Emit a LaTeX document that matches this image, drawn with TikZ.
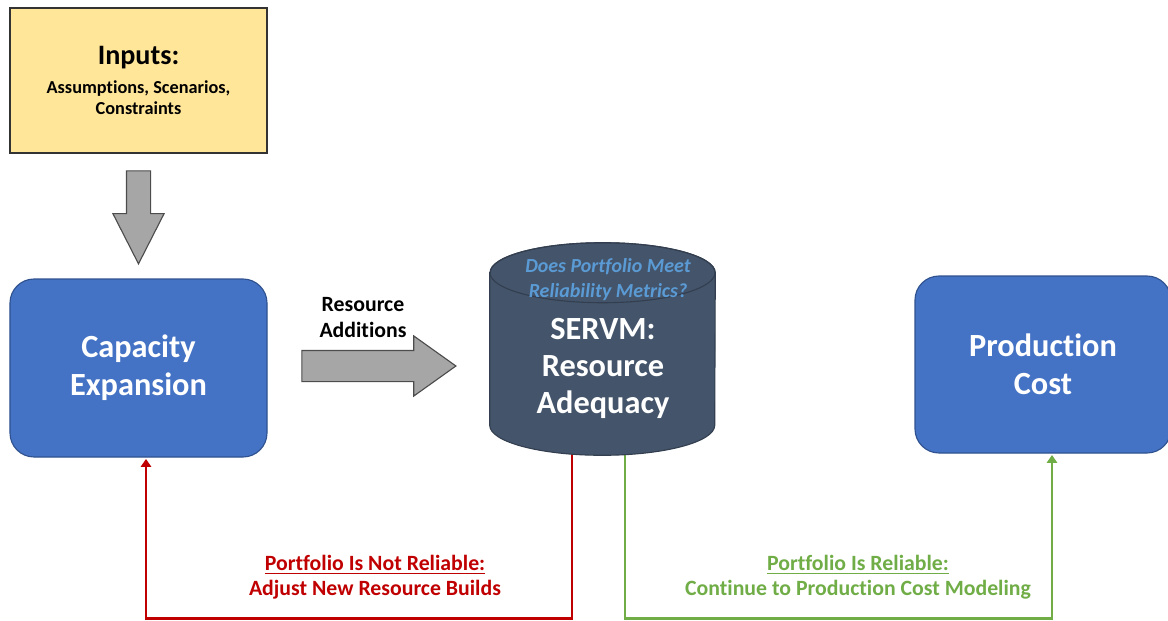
\documentclass[tikz,border=0pt]{standalone}
\usepackage{fontspec}
\setmainfont{Carlito}[Ligatures=NoCommon]
\usetikzlibrary{positioning,shapes.arrows,arrows.meta}

\definecolor{azul}{RGB}{68,114,196}
\definecolor{azulborde}{RGB}{47,82,143}
\definecolor{pizarra}{RGB}{68,84,106}
\definecolor{pizarraborde}{RGB}{51,63,80}
\definecolor{celeste}{RGB}{91,155,213}
\definecolor{amarillo}{RGB}{255,230,153}
\definecolor{gris}{RGB}{166,166,166}
\definecolor{rojo}{RGB}{192,0,0}
\definecolor{verde}{RGB}{112,173,71}

\begin{document}
\begin{tikzpicture}[>={Triangle[width=0.26cm,length=0.2cm]},
  every node/.style={font=\bfseries,align=center},
  bloque/.style={draw=azulborde, line width=0.8pt, fill=azul, rounded corners=0.6cm, text=white,
    minimum width=6.425cm, minimum height=4.45cm, font=\bfseries\fontsize{23}{27}\selectfont},
  flecha/.style={single arrow, draw=black!70, line width=0.8pt, fill=gris, inner xsep=0pt,
    single arrow head indent=0pt},
  ruta/.style={line width=2.1pt, ->, shorten >=1pt},
  etiqueta/.style={font=\bfseries\fontsize{15.5}{17.8}\selectfont}]

\useasboundingbox (0,0) rectangle (29.2,-15.525);

% Entradas y modelos
\node[draw=black!80, line width=0.8pt, fill=amarillo, minimum width=6.425cm, minimum height=3.625cm,
  font=\bfseries\fontsize{13}{15.5}\selectfont] (inputs) at (3.4625,-2.0125)
  {{\fontsize{20}{22}\selectfont Inputs:}\\[5pt]Assumptions, Scenarios,\\Constraints};
\node[bloque] (cap) at (3.4625,-9.2) {Capacity\\Expansion};
\node[bloque, minimum width=6.4cm, minimum height=4.425cm] (prod) at (26.075,-9.1125) {Production\\Cost};
\node[minimum width=5.625cm, minimum height=5.3cm, inner sep=0pt] (servm) at (15.0625,-8.725) {};

% Flechas grises
\node[flecha, inner ysep=0.2875cm, minimum height=2.325cm, single arrow head extend=0.3375cm,
  single arrow tip angle=54, rotate=-90] (baja) at (3.4625,-5.1375) {};
\node[flecha, inner ysep=0.375cm, minimum height=3.85cm, single arrow head extend=0.3625cm,
  single arrow tip angle=71] (derecha) at (9.2,-9.15) {};
\node[etiqueta] (recursos) at (9.075,-7.9375) {Resource\\Additions};

% Retorno y salida
\draw[ruta, rojo] ([xshift=-0.7625cm,yshift=0.1cm]servm.south) -- ++(0,-4.175) -| (cap.south -| 3.65,0);
\draw[ruta, verde] ([xshift=0.5625cm,yshift=0.1cm]servm.south) -- ++(0,-4.175) -| (prod.south -| 26.3,0);
\node[etiqueta, text=rojo] (noconf) at (9.375,-14.4375) {\underline{Portfolio Is Not Reliable:}\\Adjust New Resource Builds};
\node[etiqueta, text=verde] (conf) at (21.45,-14.4375) {\underline{Portfolio Is Reliable:}\\Continue to Production Cost Modeling};

% Cilindro SERVM
\filldraw[fill=pizarra, draw=pizarraborde, line width=0.8pt]
  ([yshift=-0.75cm]servm.north west) -- ([yshift=0.75cm]servm.south west)
  arc[start angle=180, end angle=360, x radius=2.8125cm, y radius=0.75cm]
  -- ([yshift=-0.75cm]servm.north east)
  arc[start angle=0, end angle=180, x radius=2.8125cm, y radius=0.75cm] -- cycle;
\draw[pizarraborde, line width=0.8pt] ([yshift=-0.75cm]servm.north) ellipse[x radius=2.8125cm, y radius=0.75cm];
\node[text=celeste, font=\bfseries\itshape\fontsize{14.2}{17.8}\selectfont] (pregunta) at (15.2,-6.99)
  {Does Portfolio Meet\\Reliability Metrics?};
\node[text=white, font=\bfseries\fontsize{23}{26.3}\selectfont] (servmtxt) at (15.075,-9.2)
  {SERVM:\\Resource\\Adequacy};

\end{tikzpicture}
\end{document}
